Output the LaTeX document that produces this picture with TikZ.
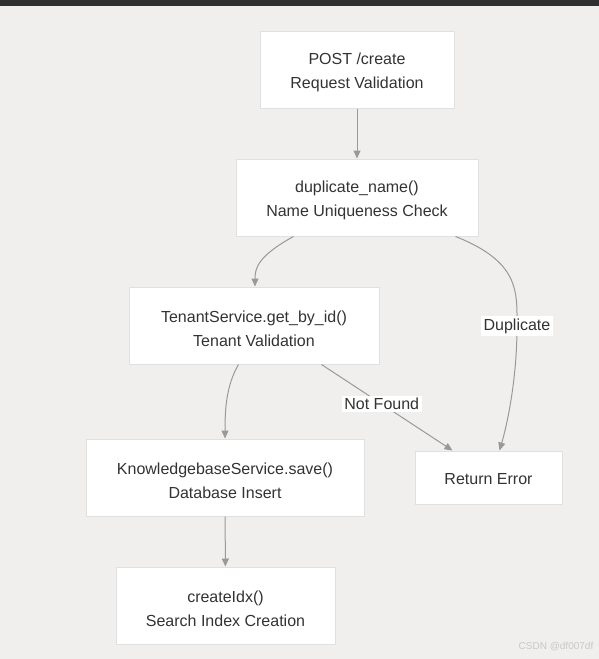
\documentclass[tikz,border=0pt]{standalone}
\usepackage{fontspec}
\setmainfont{Liberation Sans}
\usetikzlibrary{arrows.meta,calc,positioning}
\definecolor{PageBg}{HTML}{F0EFED}
\definecolor{TopBar}{HTML}{303030}
\definecolor{BoxLine}{HTML}{E0E0E0}
\definecolor{EdgeGray}{HTML}{999999}
\definecolor{TextDark}{HTML}{333333}
\definecolor{MarkGray}{HTML}{C8C8C8}

\begin{document}
\begin{tikzpicture}[x=1pt, y=-1pt, >={Triangle[length=8pt,width=7pt]},
    flowbox/.style={draw=BoxLine, line width=1pt, fill=white, text=TextDark, align=center,
        font=\fontsize{16}{24}\selectfont, inner sep=0pt, text height=41.5pt, minimum height=77pt},
    endbox/.style={flowbox, text height=13.5pt, minimum height=53pt},
    flowedge/.style={->, draw=EdgeGray, line width=1pt},
    edgelabel/.style={fill=white, text=TextDark, font=\fontsize{16}{20}\selectfont, inner sep=2.5pt}]

    % Page and top bar
    \fill[PageBg] (0,0) rectangle (599,659);
    \useasboundingbox (0,0) rectangle (599,659);
    \fill[TopBar] (0,0) rectangle (599,6);

    % Steps
    \node[flowbox, minimum width=194pt] (create) at (357,69.5) {POST /create\\Request Validation};
    \node[flowbox, minimum width=242pt] (dupname) at (357,197.5) {duplicate\_name()\\Name Uniqueness Check};
    \node[flowbox, minimum width=250pt] (tenant) at (254,325.5) {TenantService.get\_by\_id()\\Tenant Validation};
    \node[flowbox, minimum width=278pt] (kbsave) at (225,477.5) {KnowledgebaseService.save()\\Database Insert};
    \node[flowbox, minimum width=219pt] (mkidx) at (225.5,605.5) {createIdx()\\Search Index Creation};
    \node[endbox, minimum width=147pt] (reterr) at (488.5,477.5) {Return Error};

    % Main flow
    \draw[flowedge] (create) -- (dupname);
    \draw[flowedge] ($(dupname.south west)+(58,0)$) .. controls (258,256) and (255,268) .. (tenant.north -| 255,0);
    \draw[flowedge] ($(tenant.south west)+(110,0)$) .. controls (226,386) and (225,410) .. (kbsave.north);
    \draw[flowedge] (kbsave) -- (mkidx);

    % Error branches
    \draw[flowedge] ($(dupname.south east)+(-23,0)$) .. controls (520,262) and (517,292) .. (517,326)
        node[edgelabel] {Duplicate}
        .. controls (517,380) and (507,425) .. ($(reterr.north west)+(85,0)$);
    \draw[flowedge] ($(tenant.south east)+(-58,0)$) -- node[edgelabel, pos=0.46] {Not Found} ($(reterr.north west)+(38,0)$);

    % Watermark
    \node[text=MarkGray, font=\fontsize{10}{12}\selectfont] (mark) at (556,647) {CSDN @df007df};

\end{tikzpicture}
\end{document}
